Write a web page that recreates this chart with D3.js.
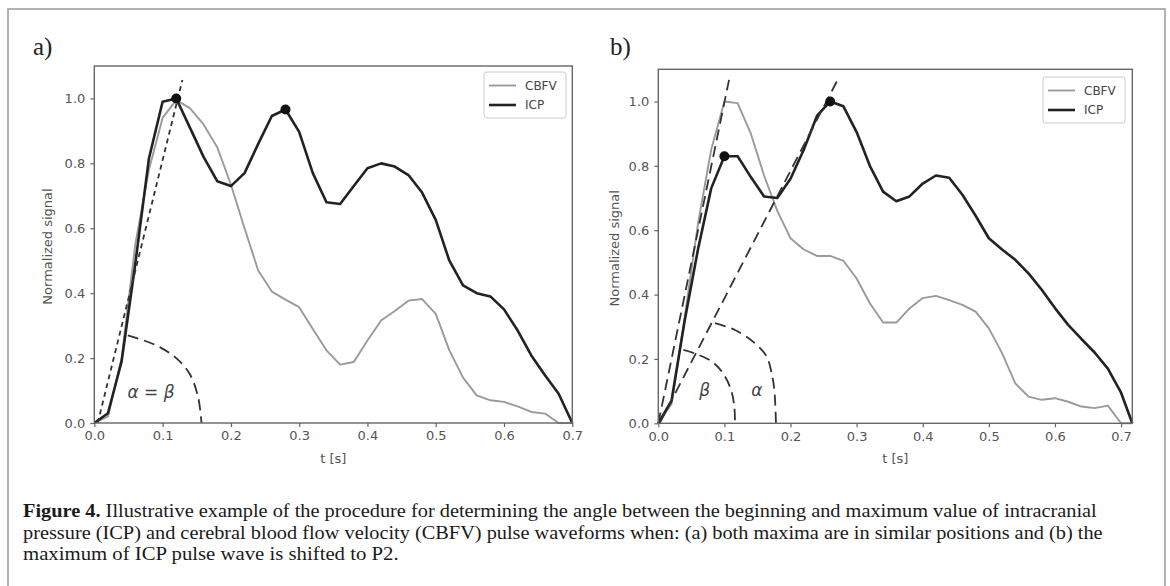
<!DOCTYPE html>
<html>
<head>
<meta charset="utf-8">
<script src="https://cdn.jsdelivr.net/npm/d3@7/dist/d3.min.js"></script>
<style>
  body { margin: 0; background: #fff; }
  .tick text { font-family: "DejaVu Sans", sans-serif; font-size: 13px; fill: #555; }
  .tick line { stroke: #666; stroke-width: 1.2; }
</style>
</head>
<body>
<div id="chart"></div>
<script>
// sample times (s)
var timeA = [0, 0.02, 0.04, 0.06, 0.08, 0.10, 0.12, 0.14, 0.16, 0.18, 0.20, 0.22, 0.24, 0.26, 0.28, 0.30, 0.32, 0.34,
             0.36, 0.38, 0.40, 0.42, 0.44, 0.46, 0.48, 0.50, 0.52, 0.54, 0.56, 0.58, 0.60, 0.62, 0.64, 0.66, 0.68, 0.70];
var timeB = [0, 0.02, 0.04, 0.06, 0.08, 0.10, 0.12, 0.14, 0.16, 0.18, 0.20, 0.22, 0.24, 0.26, 0.28, 0.30, 0.32, 0.34,
             0.36, 0.38, 0.40, 0.42, 0.44, 0.46, 0.48, 0.50, 0.52, 0.54, 0.56, 0.58, 0.60, 0.62, 0.64, 0.66, 0.68, 0.70, 0.717];

// panel a
var icpA  = [0, 0.03, 0.19, 0.49, 0.815, 0.99, 1.0, 0.91, 0.82, 0.745, 0.73, 0.77, 0.86, 0.946, 0.966, 0.897, 0.77, 0.68,
             0.675, 0.73, 0.785, 0.80, 0.79, 0.764, 0.71, 0.626, 0.50, 0.424, 0.40, 0.39, 0.35, 0.285, 0.208, 0.147, 0.09, 0.0];
var cbfvA = [0, 0.02, 0.2, 0.55, 0.78, 0.94, 0.995, 0.97, 0.92, 0.85, 0.735, 0.60, 0.47, 0.405, 0.38, 0.357, 0.29, 0.224,
             0.18, 0.188, 0.254, 0.316, 0.345, 0.377, 0.382, 0.336, 0.224, 0.14, 0.085, 0.07, 0.065, 0.051, 0.034, 0.029, 0.0, 0.0];
var maxA  = [[0.12, 1.0], [0.28, 0.966]];
var slopeA = [[0.005, 0], [0.129, 1.057]];
var arcA  = [[0.049, 0.27], [0.09, 0.24], [0.12, 0.20], [0.14, 0.15], [0.152, 0.08], [0.157, 0]];

// panel b
var icpB  = [0, 0.07, 0.32, 0.54, 0.73, 0.83, 0.83, 0.765, 0.705, 0.70, 0.76, 0.85, 0.955, 1.0, 0.985, 0.905, 0.80, 0.72,
             0.69, 0.705, 0.745, 0.77, 0.763, 0.71, 0.645, 0.575, 0.54, 0.508, 0.466, 0.415, 0.358, 0.306, 0.262, 0.22, 0.17, 0.095, 0];
var cbfvB = [0, 0.06, 0.33, 0.62, 0.85, 1.0, 0.995, 0.90, 0.77, 0.66, 0.575, 0.54, 0.52, 0.52, 0.505, 0.45, 0.373, 0.313,
             0.313, 0.357, 0.389, 0.396, 0.383, 0.368, 0.347, 0.295, 0.218, 0.124, 0.083, 0.073, 0.078, 0.067, 0.052, 0.047, 0.055, 0.0, 0.0];
var maxB  = [[0.10, 0.83], [0.26, 1.0]];
var slopeB1 = [[0, 0], [0.107, 1.067]];
var slopeB2 = [[0.002, 0], [0.272, 1.07]];
var arcBeta  = [[0.038, 0.228], [0.058, 0.215], [0.081, 0.192], [0.098, 0.155], [0.110, 0.104], [0.115, 0.052], [0.116, 0]];
var arcAlpha = [[0.0858, 0.311], [0.116, 0.29], [0.146, 0.249], [0.164, 0.207], [0.1715, 0.155], [0.1755, 0.104], [0.178, 0]];

var xTicks = [0, 0.1, 0.2, 0.3, 0.4, 0.5, 0.6, 0.7];
var yTicks = [0, 0.2, 0.4, 0.6, 0.8, 1.0];
var legendNames = ["CBFV", "ICP"];

var captionLines = [
  ["Figure 4.", " Illustrative example of the procedure for determining the angle between the beginning and maximum value of intracranial"],
  ["", "pressure (ICP) and cerebral blood flow velocity (CBFV) pulse waveforms when: (a) both maxima are in similar positions and (b) the"],
  ["", "maximum of ICP pulse wave is shifted to P2."]
];

var svg = d3.select("#chart").append("svg")
    .attr("width", 1170)
    .attr("height", 586);

svg.append("rect").attr("width", 1170).attr("height", 586).attr("fill", "#fff");

// outer frame
svg.append("rect")
    .attr("x", 8).attr("y", 9)
    .attr("width", 1157).attr("height", 620)
    .attr("fill", "none")
    .attr("stroke", "#999")
    .attr("stroke-width", 1.5);

var drawPanel = function (cfg) {
  var x = d3.scaleLinear().domain([0, cfg.xMax]).range([cfg.left, cfg.right]);
  var y = d3.scaleLinear().domain([0, 1.1]).range([cfg.bottom, cfg.top]);
  var g = svg.append("g");

  var line = d3.line()
      .x(function (d) { return x(d[0]); })
      .y(function (d) { return y(d[1]); });
  var curve = d3.line()
      .x(function (d) { return x(d[0]); })
      .y(function (d) { return y(d[1]); })
      .curve(d3.curveCatmullRom.alpha(0.5));

  // axes
  g.append("g")
      .attr("transform", "translate(0," + cfg.bottom + ")")
      .call(d3.axisBottom(x).tickValues(xTicks).tickFormat(d3.format(".1f")).tickSize(4).tickPadding(4))
      .call(function (s) { s.select(".domain").remove(); });
  g.append("g")
      .attr("transform", "translate(" + cfg.left + ",0)")
      .call(d3.axisLeft(y).tickValues(yTicks).tickFormat(d3.format(".1f")).tickSize(4).tickPadding(5))
      .call(function (s) { s.select(".domain").remove(); });

  // curves
  var pairs = function (t, v) { return t.map(function (d, i) { return [d, v[i]]; }); };
  g.append("path")
      .attr("d", line(pairs(cfg.time, cfg.cbfv)))
      .attr("fill", "none").attr("stroke", "#9a9a9a").attr("stroke-width", 1.9)
      .attr("stroke-linejoin", "round");
  g.append("path")
      .attr("d", line(pairs(cfg.time, cfg.icp)))
      .attr("fill", "none").attr("stroke", "#222").attr("stroke-width", 2.6)
      .attr("stroke-linejoin", "round");

  // construction lines
  cfg.slopes.forEach(function (s) {
    g.append("path")
        .attr("d", line(s))
        .attr("fill", "none").attr("stroke", "#333").attr("stroke-width", 1.8)
        .attr("stroke-dasharray", cfg.slopeDash);
  });
  cfg.arcs.forEach(function (a) {
    g.append("path")
        .attr("d", curve(a))
        .attr("fill", "none").attr("stroke", "#333").attr("stroke-width", 1.8)
        .attr("stroke-dasharray", "11,6");
  });

  // maxima
  g.selectAll(".max")
      .data(cfg.maxima)
    .enter().append("circle")
      .attr("cx", function (d) { return x(d[0]); })
      .attr("cy", function (d) { return y(d[1]); })
      .attr("r", 5)
      .attr("fill", "#111");

  // angle labels
  cfg.angleLabels.forEach(function (l) {
    var t = g.append("text")
        .attr("x", x(l.t)).attr("y", y(l.v))
        .attr("text-anchor", "middle")
        .attr("dominant-baseline", "central")
        .style("font-family", "DejaVu Sans, sans-serif")
        .style("font-size", "17px")
        .attr("fill", "#444");
    l.parts.forEach(function (p) {
      t.append("tspan").style("font-style", p[1] ? "italic" : "normal").text(p[0]);
    });
  });

  // spines
  g.append("rect")
      .attr("x", cfg.left).attr("y", cfg.top)
      .attr("width", cfg.right - cfg.left).attr("height", cfg.bottom - cfg.top)
      .attr("fill", "none").attr("stroke", "#666").attr("stroke-width", 1.4);

  // axis labels
  g.append("text")
      .attr("x", (cfg.left + cfg.right) / 2).attr("y", cfg.bottom + 40)
      .attr("text-anchor", "middle")
      .style("font-family", "DejaVu Sans, sans-serif").style("font-size", "13px")
      .attr("fill", "#555")
      .text("t [s]");
  g.append("text")
      .attr("transform", "translate(" + cfg.yLabelX + "," + ((cfg.top + cfg.bottom) / 2 + 2) + ") rotate(-90)")
      .attr("text-anchor", "middle")
      .attr("dominant-baseline", "central")
      .style("font-family", "DejaVu Sans, sans-serif").style("font-size", "13px")
      .attr("fill", "#555")
      .text("Normalized signal");

  // legend
  var lg = g.append("g").attr("transform", "translate(" + cfg.legend[0] + "," + cfg.legend[1] + ")");
  lg.append("rect")
      .attr("width", 82).attr("height", 46).attr("rx", 3)
      .attr("fill", "#fff").attr("fill-opacity", 0.8)
      .attr("stroke", "#ccc").attr("stroke-width", 1);
  legendNames.forEach(function (n, i) {
    lg.append("line")
        .attr("x1", 5).attr("x2", 32)
        .attr("y1", 13.5 + i * 19.5).attr("y2", 13.5 + i * 19.5)
        .attr("stroke", i === 0 ? "#9a9a9a" : "#222")
        .attr("stroke-width", i === 0 ? 1.9 : 2.6);
    lg.append("text")
        .attr("x", 41).attr("y", 13.5 + i * 19.5)
        .attr("dominant-baseline", "central")
        .style("font-family", "DejaVu Sans, sans-serif").style("font-size", "12px")
        .attr("fill", "#444")
        .text(n);
  });

  // panel tag
  svg.append("text")
      .attr("x", cfg.tag[0]).attr("y", cfg.tag[1])
      .style("font-family", "Liberation Serif, serif").style("font-size", "25px")
      .attr("fill", "#222")
      .text(cfg.tagText);
};

drawPanel({
  xMax: 0.7, left: 94.3, right: 572.3, top: 66, bottom: 423,
  time: timeA, icp: icpA, cbfv: cbfvA, maxima: maxA,
  slopes: [slopeA], slopeDash: "5,4", arcs: [arcA],
  angleLabels: [{t: 0.083, v: 0.096, parts: [["α", true], [" = ", false], ["β", true]]}],
  yLabelX: 47, legend: [484, 72], tag: [33, 55], tagText: "a)"
});

drawPanel({
  xMax: 0.717, left: 658.3, right: 1132.3, top: 69.3, bottom: 423.3,
  time: timeB, icp: icpB, cbfv: cbfvB, maxima: maxB,
  slopes: [slopeB1, slopeB2], slopeDash: "11,6", arcs: [arcBeta, arcAlpha],
  angleLabels: [{t: 0.07, v: 0.104, parts: [["β", true]]}, {t: 0.149, v: 0.104, parts: [["α", true]]}],
  yLabelX: 614, legend: [1043, 77], tag: [610, 55], tagText: "b)"
});

// caption (condensed serif, squeezed to the measured line widths)
var capX = 23, capW = [1075, 1080, 376], capY = [517, 538.5, 560];
captionLines.forEach(function (l, i) {
  var t = svg.append("text")
      .attr("y", 0)
      .style("font-family", "Liberation Serif, serif").style("font-size", "19.5px")
      .attr("fill", "#1a1a1a");
  if (l[0]) t.append("tspan").style("font-weight", "bold").text(l[0]);
  t.append("tspan").text(l[1]);
  var w = t.node().getComputedTextLength();
  t.attr("transform", "translate(" + capX + "," + capY[i] + ") scale(" + (capW[i] / w) + ",1)");
});
</script>
</body>
</html>
